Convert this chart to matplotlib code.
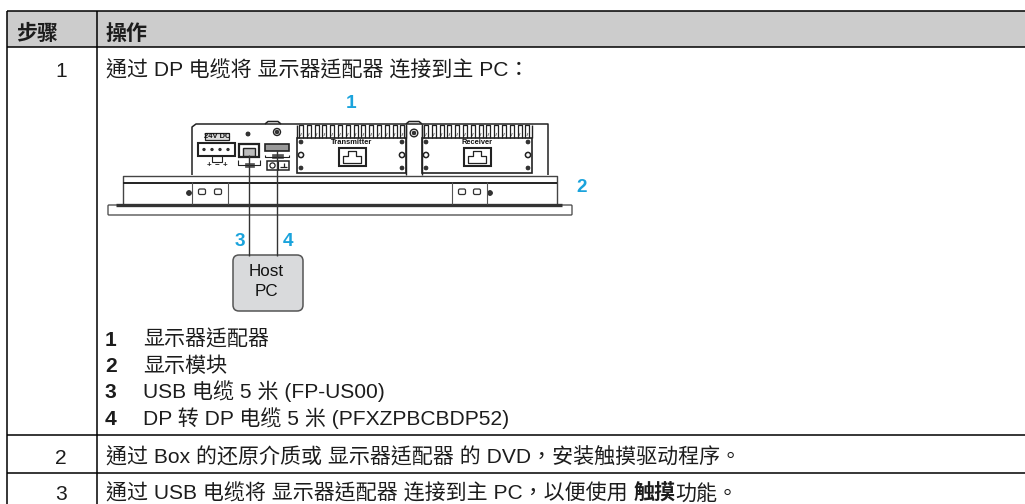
import re
import matplotlib
matplotlib.use("Agg")
import matplotlib.pyplot as plt
from matplotlib.patches import Rectangle, FancyBboxPatch, Circle

# ---- table content
header_cells = ["步骤", "操作"]
step_numbers = ["1", "2", "3"]
step_texts = [
    "通过 DP 电缆将 显示器适配器 连接到主 PC：",
    "通过 Box 的还原介质或 显示器适配器 的 DVD，安装触摸驱动程序。",
    "通过 USB 电缆将 显示器适配器 连接到主 PC，以便使用 **触摸**功能。",
]
legend_numbers = ["1", "2", "3", "4"]
legend_texts = ["显示器适配器", "显示模块", "USB 电缆 5 米 (FP-US00)", "DP 转 DP 电缆 5 米 (PFXZPBCBDP52)"]
callouts = ["1", "2", "3", "4"]
host_label = ["Host", "PC"]

# ---- layout (pixels)
W, H = 1025, 504
DPI = 100
LEFT, COL, TOP, HEAD = 7, 97, 11, 47
ROW_LINES = [435, 473]
HEAD_BASE = 40
STEP_BASE = [77, 464, 500]
LEG_BASE = [346, 372, 398.5, 425]
EM = 21.0
SPACE = 5.8
TXT = "#1c1c1c"
BLUE = "#1aa3dc"
LINE = "#222222"
FAMILY = ["Liberation Sans", "Noto Sans CJK TC"]

fig = plt.figure(figsize=(W / DPI, H / DPI), dpi=DPI)
ax = fig.add_axes([0, 0, 1, 1])
ax.set_xlim(0, W)
ax.set_ylim(H, 0)
ax.axis("off")
rend = fig.canvas.get_renderer()


def pt(px):
    return px * 72 / DPI


def line(x, y, s, bold=False):
    for part in re.split(r"(\*\*.*?\*\*)", s):
        if not part:
            continue
        b = bold or part.startswith("**")
        part = part.strip("*")
        t = ax.text(x, y, part.strip(), va="baseline", ha="left", color=TXT, family=FAMILY,
                    fontsize=pt(EM), fontweight="bold" if b else "normal")
        x += t.get_window_extent(rend).width
        if part.endswith(" "):
            x += SPACE
    return x


def L(xs, ys, lw=1.0, c=LINE):
    ax.plot(xs, ys, color=c, lw=lw, solid_capstyle="butt")


def R(x0, y0, x1, y1, lw=1.0, fc="none", ec=LINE):
    ax.add_patch(Rectangle((x0, y0), x1 - x0, y1 - y0, fc=fc, ec=ec, lw=lw))


def screw(x, y, r=1.8):
    ax.add_patch(Circle((x, y), r, fc="#333333", ec="#222222", lw=0.6))


# ---- table
ax.add_patch(Rectangle((LEFT, TOP), W - LEFT, HEAD - TOP, fc="#cccccc", ec="none"))
for y in [TOP, HEAD] + ROW_LINES:
    L([LEFT, W], [y, y], 1.1, "black")
L([LEFT, LEFT], [TOP, H], 1.1, "black")
L([COL, COL], [TOP, H], 1.1, "black")

line(16, HEAD_BASE, header_cells[0], bold=True)
line(106, HEAD_BASE, header_cells[1], bold=True)
for num, y in zip(step_numbers, STEP_BASE):
    ax.text(61, y, num, ha="center", va="baseline", family="Liberation Sans",
            fontsize=pt(EM), color=TXT)
for s, y in zip(step_texts, STEP_BASE):
    line(106, y, s)
for num, s, y in zip(legend_numbers, legend_texts, LEG_BASE):
    line(105, y, num, bold=True)
    line(143, y, s)

# ---- diagram: front panel
L([123, 123, 557, 557], [204, 176, 176, 204], 1.0, "#444444")
L([123, 557], [182.5, 182.5], 1.4)
L([116, 562], [204.5, 204.5], 2.4, "#333333")
ax.add_patch(FancyBboxPatch((108, 205), 464, 10, boxstyle="round,pad=0,rounding_size=1",
                            fc="white", ec="#555555", lw=1.0))
for x in [192, 228, 452, 487]:
    L([x, x], [182, 204], 0.8, "#555555")
for x in [202, 218, 462, 477]:
    ax.add_patch(FancyBboxPatch((x - 3.5, 189), 7, 5.5, boxstyle="round,pad=0,rounding_size=1.5",
                                fc="white", ec="#333333", lw=0.9))
screw(189, 193, 2.4)
screw(490, 193, 2.4)

# back housing
L([192, 192, 196, 548, 548], [175, 127, 124, 124, 175], 1.1)
L([265, 268, 278, 281], [124, 121.5, 121.5, 124], 1.1)
L([406, 409, 419, 422], [124, 121.5, 121.5, 124], 1.1)
L([406, 406], [124, 175], 1.0)
L([422, 422], [124, 175], 1.0)
screw(248, 134, 2.0)
ax.add_patch(Circle((277, 132), 3.5, fc="white", ec="#222222", lw=1.0))
screw(277, 132, 1.8)
ax.add_patch(Circle((414, 133), 3.8, fc="white", ec="#222222", lw=1.0))
screw(414, 133, 1.8)

# transmitter / receiver modules
modules = [(297, 406, "Transmitter", 352), (422, 532, "Receiver", 477)]
for x0, x1, label, cx in modules:
    R(x0, 138, x1, 173, 1.2)
    L([x0, x0], [125, 138], 1.0)
    L([x1, x1], [125, 138], 1.0)
    x = x0 + 2
    while x < x1 - 4:
        L([x, x, x + 4, x + 4], [138, 125, 125, 138], 0.9)
        L([x + 1.5, x + 2.5], [136, 133], 0.6, "#666666")
        x += 7.8
    ax.text(cx, 143, label, ha="center", va="center", fontsize=pt(7.5), fontweight="bold",
            family="Liberation Sans", color="#111111")
    R(cx - 13.5, 148, cx + 13.5, 166, 1.5)
    L([cx - 9, cx - 9, cx - 4, cx - 4, cx + 4, cx + 4, cx + 9, cx + 9, cx - 9],
      [163, 156, 156, 151, 151, 156, 156, 163, 163], 0.9)
    for sx in (x0 + 4, x1 - 4):
        screw(sx, 142, 1.9)
        screw(sx, 168, 1.9)
        ax.add_patch(Circle((sx, 155), 2.6, fc="white", ec="#222222", lw=1.1))

# power terminal and I/O
R(205, 133, 229, 140, 0.9, fc="#dddddd")
ax.text(217, 136.7, "24V DC", ha="center", va="center", fontsize=pt(7.5), fontweight="bold",
        family="Liberation Sans", color="#111111")
R(198, 143, 235, 156, 1.5)
R(212, 156, 222, 162, 0.8)
for x in [204, 212, 220, 228]:
    screw(x, 149.5, 1.2)
for x, c in [(209, "+"), (217, "−"), (225, "+")]:
    ax.text(x, 165, c, ha="center", va="center", fontsize=pt(8), color="#222222",
            family="Liberation Sans", fontweight="bold")
R(239, 144, 259, 157, 1.6)
R(243, 148, 255, 156, 1.0, fc="#bbbbbb")
L([238, 238, 260, 260], [160, 165, 165, 160], 0.8)
R(245, 163, 254, 167, 0.5, fc="#555555", ec="#555555")
ax.add_patch(Rectangle((265, 144), 24, 7, fc="#999999", ec="#222222", lw=1.2))
L([265, 265, 289, 289], [155, 157, 157, 155], 0.8)
R(272, 154, 283, 158, 0.5, fc="#555555", ec="#555555")
R(267, 161, 289, 170, 1.1)
L([278, 278], [161, 170], 0.8)
ax.add_patch(Circle((272.5, 165.5), 2.6, fc="white", ec="#222222", lw=0.9))
L([280, 287], [167, 167], 0.9)
L([283.5, 283.5], [162.5, 167], 0.9)

# cables and host box
for x, y0 in [(249, 155), (277, 150)]:
    L([x, x], [y0, 256], 1.0, "#333333")
ax.add_patch(FancyBboxPatch((233, 255), 70, 56, boxstyle="round,pad=0,rounding_size=6",
                            fc="#d9dadc", ec="#555555", lw=1.1))
for s, y in zip(host_label, [272, 292]):
    ax.text(266, y, s, ha="center", va="center", family="Liberation Sans",
            fontsize=pt(17), color="#111111")

# callouts
for s, (x, y) in zip(callouts, [(351, 103), (582, 188), (240, 241), (288, 241)]):
    ax.text(x, y, s, ha="center", va="center", color=BLUE, family="Liberation Sans",
            fontsize=pt(19), fontweight="bold")

fig.savefig("out.png", dpi=DPI)
